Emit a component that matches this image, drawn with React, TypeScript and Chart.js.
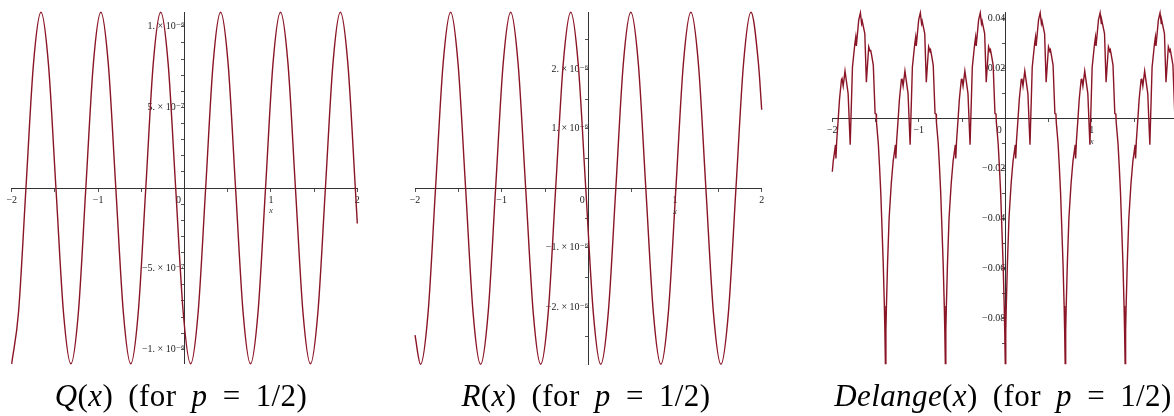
import React, { useEffect, useRef } from 'react';
import { Chart, registerables } from 'chart.js';

Chart.register(...registerables);

// ---------- data ----------
// Q(x), values in units of 1e-6
const qX = [-2, -1.921, -1.835, -1.748, -1.661, -1.575, -1.488, -1.401, -1.315, -1.228, -1.142, -1.055,
  -0.968, -0.882, -0.795, -0.708, -0.622, -0.535, -0.448, -0.362, -0.275, -0.189, -0.102, -0.015,
  0.071, 0.158, 0.245, 0.331, 0.418, 0.505, 0.591, 0.678, 0.764, 0.851, 0.938, 1.024,
  1.111, 1.198, 1.284, 1.371, 1.458, 1.544, 1.631, 1.718, 1.804, 1.891, 1.977, 2];
const qY = [-1.09, -0.77, 0, 0.77, 1.09, 0.77, 0, -0.77, -1.09, -0.77, 0, 0.77,
  1.09, 0.77, 0, -0.77, -1.09, -0.77, 0, 0.77, 1.09, 0.77, 0, -0.77,
  -1.09, -0.77, 0, 0.77, 1.09, 0.77, 0, -0.77, -1.09, -0.77, 0, 0.77,
  1.09, 0.77, 0, -0.77, -1.09, -0.77, 0, 0.77, 1.09, 0.77, 0, -0.22];

// R(x), values in units of 1e-6
const rX = [-2, -1.936, -1.849, -1.763, -1.676, -1.589, -1.503, -1.416, -1.330, -1.243, -1.156, -1.070,
  -0.983, -0.896, -0.810, -0.723, -0.636, -0.550, -0.463, -0.377, -0.290, -0.203, -0.117, -0.030,
  0.057, 0.143, 0.230, 0.317, 0.403, 0.490, 0.577, 0.663, 0.750, 0.837, 0.923, 1.010,
  1.096, 1.183, 1.270, 1.356, 1.443, 1.530, 1.616, 1.703, 1.790, 1.876, 1.963, 2];
const rY = [-2.47, -2.96, -2.09, 0, 2.09, 2.96, 2.09, 0, -2.09, -2.96, -2.09, 0,
  2.09, 2.96, 2.09, 0, -2.09, -2.96, -2.09, 0, 2.09, 2.96, 2.09, 0,
  -2.09, -2.96, -2.09, 0, 2.09, 2.96, 2.09, 0, -2.09, -2.96, -2.09, 0,
  2.09, 2.96, 2.09, 0, -2.09, -2.96, -2.09, 0, 2.09, 2.96, 2.09, 1.32];

// Delange(x)
const dX = [
  -2.000, -1.989, -1.969, -1.963, -1.958, -1.949, -1.931, -1.917, -1.894, -1.887, -1.874, -1.853, -1.817, -1.793,
  -1.767, -1.739, -1.729, -1.722, -1.694, -1.675, -1.661, -1.654, -1.624, -1.606, -1.579, -1.564, -1.557, -1.546,
  -1.526, -1.505, -1.493, -1.489, -1.468, -1.454, -1.439, -1.429, -1.411, -1.398, -1.392,
  -1.386, -1.380, -1.374, -1.361, -1.343, -1.318, -1.296, -1.276, -1.270, -1.265, -1.256, -1.238, -1.224, -1.201,
  -1.194, -1.181, -1.160, -1.124, -1.100, -1.074, -1.046, -1.036, -1.029, -1.001, -0.982, -0.968, -0.961, -0.931,
  -0.913, -0.886, -0.871, -0.864, -0.853, -0.833, -0.812, -0.800, -0.796, -0.775, -0.761, -0.746, -0.736, -0.718,
  -0.705, -0.699,
  -0.693, -0.687, -0.681, -0.668, -0.650, -0.625, -0.603, -0.583, -0.577, -0.572, -0.563, -0.545, -0.531, -0.508,
  -0.501, -0.488, -0.467, -0.431, -0.407, -0.381, -0.353, -0.343, -0.336, -0.308, -0.289, -0.275, -0.268, -0.238,
  -0.220, -0.193, -0.178, -0.171, -0.160, -0.140, -0.119, -0.107, -0.103, -0.082, -0.068, -0.053, -0.043, -0.025,
  -0.012, -0.006,
  0.000, 0.006, 0.012, 0.025, 0.043, 0.068, 0.090, 0.110, 0.116, 0.121, 0.130, 0.148, 0.162, 0.185,
  0.192, 0.205, 0.226, 0.262, 0.286, 0.312, 0.340, 0.350, 0.357, 0.385, 0.404, 0.418, 0.425, 0.455,
  0.473, 0.500, 0.515, 0.522, 0.533, 0.553, 0.574, 0.586, 0.590, 0.611, 0.625, 0.640, 0.650, 0.668,
  0.681, 0.687,
  0.693, 0.699, 0.705, 0.718, 0.736, 0.761, 0.783, 0.803, 0.809, 0.814, 0.823, 0.841, 0.855, 0.878,
  0.885, 0.898, 0.919, 0.955, 0.979, 1.005, 1.033, 1.043, 1.050, 1.078, 1.097, 1.111, 1.118, 1.148,
  1.166, 1.193, 1.208, 1.215, 1.226, 1.246, 1.267, 1.279, 1.283, 1.304, 1.318, 1.333, 1.343, 1.361,
  1.374, 1.380,
  1.386, 1.392, 1.398, 1.411, 1.429, 1.454, 1.476, 1.496, 1.502, 1.507, 1.516, 1.534, 1.548, 1.571,
  1.578, 1.591, 1.612, 1.648, 1.672, 1.698, 1.726, 1.736, 1.743, 1.771, 1.790, 1.804, 1.811, 1.841,
  1.859, 1.886, 1.901, 1.908, 1.919, 1.939, 1.960, 1.972, 1.976, 1.997, 2.000,
];
const dY = [
  -0.0213, -0.017, -0.012, -0.0105, -0.016, -0.009, 0, 0.0075, 0.0155, 0.016, 0.013, 0.019, 0.010, -0.0105,
  0.0205, 0.030, 0.0325, 0.029, 0.0395, 0.0423, 0.038, 0.039, 0.034, 0.0145, 0.0287, 0.027, 0.0275, 0.0255,
  0.0214, 0.002, 0.0018, -0.0015, -0.010, -0.019, -0.030, -0.040, -0.058, -0.075, -0.085,
  -0.098, -0.085, -0.075, -0.058, -0.040, -0.026, -0.017, -0.012, -0.0105, -0.016, -0.009, 0, 0.0075, 0.0155,
  0.016, 0.013, 0.019, 0.010, -0.0105, 0.0205, 0.030, 0.0325, 0.029, 0.0395, 0.0423, 0.038, 0.039, 0.034,
  0.0145, 0.0287, 0.027, 0.0275, 0.0255, 0.0214, 0.002, 0.0018, -0.0015, -0.010, -0.019, -0.030, -0.040, -0.058,
  -0.075, -0.085,
  -0.098, -0.085, -0.075, -0.058, -0.040, -0.026, -0.017, -0.012, -0.0105, -0.016, -0.009, 0, 0.0075, 0.0155,
  0.016, 0.013, 0.019, 0.010, -0.0105, 0.0205, 0.030, 0.0325, 0.029, 0.0395, 0.0423, 0.038, 0.039, 0.034,
  0.0145, 0.0287, 0.027, 0.0275, 0.0255, 0.0214, 0.002, 0.0018, -0.0015, -0.010, -0.019, -0.030, -0.040, -0.058,
  -0.075, -0.085,
  -0.098, -0.085, -0.075, -0.058, -0.040, -0.026, -0.017, -0.012, -0.0105, -0.016, -0.009, 0, 0.0075, 0.0155,
  0.016, 0.013, 0.019, 0.010, -0.0105, 0.0205, 0.030, 0.0325, 0.029, 0.0395, 0.0423, 0.038, 0.039, 0.034,
  0.0145, 0.0287, 0.027, 0.0275, 0.0255, 0.0214, 0.002, 0.0018, -0.0015, -0.010, -0.019, -0.030, -0.040, -0.058,
  -0.075, -0.085,
  -0.098, -0.085, -0.075, -0.058, -0.040, -0.026, -0.017, -0.012, -0.0105, -0.016, -0.009, 0, 0.0075, 0.0155,
  0.016, 0.013, 0.019, 0.010, -0.0105, 0.0205, 0.030, 0.0325, 0.029, 0.0395, 0.0423, 0.038, 0.039, 0.034,
  0.0145, 0.0287, 0.027, 0.0275, 0.0255, 0.0214, 0.002, 0.0018, -0.0015, -0.010, -0.019, -0.030, -0.040, -0.058,
  -0.075, -0.085,
  -0.098, -0.085, -0.075, -0.058, -0.040, -0.026, -0.017, -0.012, -0.0105, -0.016, -0.009, 0, 0.0075, 0.0155,
  0.016, 0.013, 0.019, 0.010, -0.0105, 0.0205, 0.030, 0.0325, 0.029, 0.0395, 0.0423, 0.038, 0.039, 0.034,
  0.0145, 0.0287, 0.027, 0.0275, 0.0255, 0.0214, 0.002, 0.0018, -0.0015, -0.010, -0.012,
];

// tick labels
const xTickValues = [-2, -1, 0, 1, 2];
const xTickLabels = ['\u22122', '\u22121', '0\u2003\u2009', '1', '2'];
const qTickValues = [-1, -0.5, 0.5, 1];
const qTickLabels = ['\u22121. \u00d7 10\u207b\u2076', '\u22125. \u00d7 10\u207b\u2077', '5. \u00d7 10\u207b\u2077', '1. \u00d7 10\u207b\u2076'];
const rTickValues = [-2, -1, 1, 2];
const rTickLabels = ['\u22122. \u00d7 10\u207b\u2076', '\u22121. \u00d7 10\u207b\u2076', '1. \u00d7 10\u207b\u2076', '2. \u00d7 10\u207b\u2076'];
const dTickValues = [-0.08, -0.06, -0.04, -0.02, 0.02, 0.04];
const dTickLabels = ['\u22120.08', '\u22120.06', '\u22120.04', '\u22120.02', '0.02', '0.04'];

// ---------- styling ----------
const CURVE = '#8a1526';
const AXIS = '#333333';
const TICKFONT = { family: '"Liberation Serif", "DejaVu Serif", serif', size: 10 };

const pickLabel = (vals: number[], labels: string[], v: number, tol: number) => {
  for (let i = 0; i < vals.length; i++) if (Math.abs(vals[i] - v) < tol) return labels[i];
  return '';
};

const zeroPad = (s: any) => {
  s.paddingLeft = 0; s.paddingRight = 0; s.paddingTop = 0; s.paddingBottom = 0;
};

const xLabelPlugin = {
  id: 'xAxisName',
  afterDraw(chart: any) {
    const { ctx, scales } = chart;
    const px = scales.x.getPixelForValue(1);
    const py = scales.y.getPixelForValue(0) + 23;
    ctx.save();
    ctx.font = 'italic 9px "Liberation Serif", serif';
    ctx.fillStyle = '#444';
    ctx.textAlign = 'center';
    ctx.textBaseline = 'middle';
    ctx.fillText('x', px, py);
    ctx.restore();
  },
};

type PanelProps = {
  left: number; xs: number[]; ys: number[]; yMin: number; yMax: number; yStep: number;
  yVals: number[]; yLabels: string[]; pad: { left: number; right: number; top: number; bottom: number };
  smooth: boolean;
};

function Panel(p: PanelProps) {
  const ref = useRef<HTMLCanvasElement>(null);
  useEffect(() => {
    const chart = new Chart(ref.current as HTMLCanvasElement, {
      type: 'line',
      data: {
        datasets: [{
          data: p.xs.map((x, i) => ({ x, y: p.ys[i] })),
          borderColor: CURVE,
          borderWidth: 1.4,
          pointRadius: 0,
          fill: false,
          tension: 0,
          cubicInterpolationMode: p.smooth ? 'monotone' : 'default',
          clip: false,
        } as any],
      },
      options: {
        animation: false,
        responsive: false,
        maintainAspectRatio: false,
        events: [],
        layout: { padding: p.pad },
        plugins: { legend: { display: false }, tooltip: { enabled: false } },
        scales: {
          x: {
            type: 'linear', min: -2, max: 2, position: { y: 0 } as any,
            afterFit: zeroPad,
            grid: { display: true, drawOnChartArea: false, drawTicks: true, tickLength: 3, color: '#555', lineWidth: 1 },
            border: { display: true, color: AXIS, width: 1 },
            ticks: {
              stepSize: 0.5, autoSkip: false, maxRotation: 0, includeBounds: false, padding: 3,
              font: TICKFONT, color: '#222',
              callback: (v: any) => pickLabel(xTickValues, xTickLabels, Number(v), 0.01),
            },
          },
          y: {
            type: 'linear', min: p.yMin, max: p.yMax, position: { x: 0 } as any,
            afterFit: zeroPad,
            grid: { display: true, drawOnChartArea: false, drawTicks: true, tickLength: 3, color: '#555', lineWidth: 1 },
            border: { display: true, color: AXIS, width: 1 },
            ticks: {
              stepSize: p.yStep, autoSkip: false, includeBounds: false, padding: 3,
              font: TICKFONT, color: '#222',
              callback: (v: any) => pickLabel(p.yVals, p.yLabels, Number(v), p.yStep / 10),
            },
          },
        },
      } as any,
      plugins: [xLabelPlugin],
    });
    return () => chart.destroy();
  }, []);
  return <canvas ref={ref} width={380} height={380} style={{ position: 'absolute', left: p.left, top: 0 }} />;
}

const capStyle = (cx: number): React.CSSProperties => ({
  position: 'absolute', left: cx - 220, width: 440, top: 379, textAlign: 'center',
  fontFamily: '"Liberation Serif", "Times New Roman", serif', fontSize: 31, lineHeight: '34px',
  letterSpacing: '0.4px', wordSpacing: '7px', color: '#000', whiteSpace: 'nowrap',
});

export default function App() {
  return (
    <div style={{ position: 'fixed', left: 0, top: 0, width: 1174, height: 416, overflow: 'hidden', background: '#fff' }}>
      <Panel left={0} xs={qX} ys={qY} yMin={-1.09} yMax={1.09} yStep={0.1} yVals={qTickValues} yLabels={qTickLabels}
        pad={{ left: 11.7, right: 22.7, top: 12.3, bottom: 16.2 }} smooth={true} />
      <Panel left={400} xs={rX} ys={rY} yMin={-2.96} yMax={2.96} yStep={0.5} yVals={rTickValues} yLabels={rTickLabels}
        pad={{ left: 15, right: 18.3, top: 12.3, bottom: 15.7 }} smooth={true} />
      <Panel left={820} xs={dX} ys={dY} yMin={-0.098} yMax={0.0425} yStep={0.01} yVals={dTickValues} yLabels={dTickLabels}
        pad={{ left: 12.3, right: 21.8, top: 12.3, bottom: 16.45 }} smooth={false} />
      <div style={capStyle(181)}><i>Q</i>(<i>x</i>) (for <i>p</i> = 1/2)</div>
      <div style={capStyle(586)}><i>R</i>(<i>x</i>) (for <i>p</i> = 1/2)</div>
      <div style={capStyle(1003)}><i>Delange</i>(<i>x</i>) (for <i>p</i> = 1/2)</div>
    </div>
  );
}
